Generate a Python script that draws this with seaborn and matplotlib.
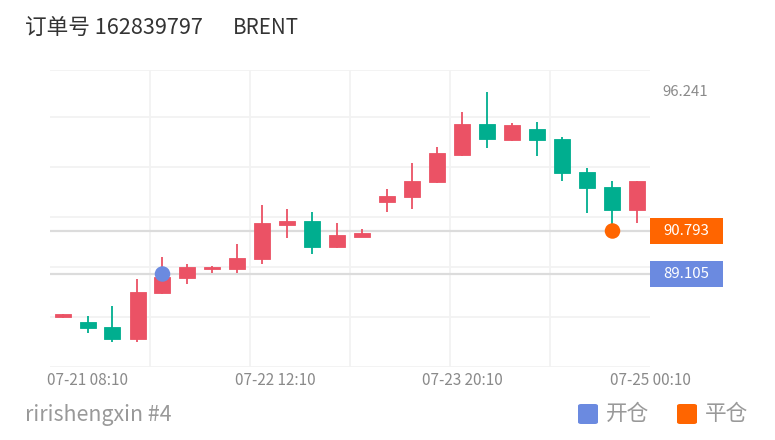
import numpy as np
import pandas as pd
import matplotlib
matplotlib.use("Agg")
import matplotlib.pyplot as plt
import seaborn as sns
from matplotlib.patches import Rectangle, FancyBboxPatch
from matplotlib.transforms import blended_transform_factory

# ---------------- data ----------------
opens = [87.417, 87.232, 87.036, 86.542, 88.347, 88.936, 89.301, 89.289, 89.682, 91.040, 91.197, 90.153,
         90.557, 91.920, 92.116, 92.705, 93.776, 94.993, 94.365, 94.809, 94.405, 93.121, 92.532, 91.617]
closes = [87.515, 86.985, 86.542, 88.410, 88.999, 89.368, 89.392, 89.745, 91.095, 91.197, 90.153, 90.624,
          90.703, 92.179, 92.768, 93.855, 94.993, 94.393, 94.954, 94.354, 93.058, 92.469, 91.617, 92.756]
highs = [87.554, 87.468, 87.861, 88.920, 89.784, 89.498, 89.420, 90.271, 91.814, 91.645, 91.527, 91.119,
         90.860, 92.430, 93.474, 94.102, 95.476, 96.241, 95.021, 95.084, 94.495, 93.254, 92.756, 92.756]
lows = [87.358, 86.777, 86.447, 86.424, 88.308, 88.712, 89.132, 89.132, 89.486, 90.506, 89.890, 90.140,
        90.557, 91.539, 91.657, 92.677, 93.749, 94.063, 94.326, 93.737, 92.768, 91.488, 90.850, 91.095]
tick_pos = [1.0, 8.5, 16.0, 23.5]
tick_labels = ["07-21 08:10", "07-22 12:10", "07-23 20:10", "07-25 00:10"]
open_idx, open_price = 4, 89.105
close_idx, close_price = 22, 90.793
max_price = 96.241
title_left = "订单号 162839797"
title_right = "BRENT"
footer = "ririshengxin #4"
legend_labels = ["开仓", "平仓"]

RED = "#eb5265"
GREEN = "#00ae8f"
BLUE = "#6b8ae0"
ORANGE = "#ff6500"

W, H = 775, 440

sns.set_theme(style="white")
plt.rcParams['font.family'] = ['Noto Sans CJK SC', 'DejaVu Sans']

fig = plt.figure(figsize=(W / 100, H / 100), dpi=100)
fig.patch.set_facecolor("white")
ax = fig.add_axes([50 / W, 73 / H, 600 / W, 297 / H])

df = pd.DataFrame(dict(idx=np.arange(len(opens)), open=opens, close=closes, high=highs, low=lows))
df["up"] = df["close"] >= df["open"]
cols = np.where(df["up"], RED, GREEN)

ax.vlines(df["idx"], df["low"], df["high"], colors=cols, lw=1.3, zorder=3)
ax.bar(df["idx"], df["close"] - df["open"], bottom=df["open"], width=0.64,
       color=cols, edgecolor=cols, linewidth=0.6, zorder=4)

ylo, yhi = 85.454, 97.113
ax.set_ylim(ylo, yhi)
ax.set_xlim(-0.5, len(opens) - 0.5)

# grid
ax.set_yticks([85.454, 87.417, 89.380, 91.343, 93.305, 95.268, 97.113])
ax.set_yticklabels([])
ax.set_xticks(tick_pos)
ax.set_xticklabels(tick_labels)
ax.set_xticks([3.5, 7.5, 11.5, 15.5, 19.5, 23.5], minor=True)
ax.grid(axis="y", which="major", color="#f2f2f2", lw=1.3, zorder=0)
ax.grid(axis="x", which="minor", color="#f2f2f2", lw=1.3, zorder=0)
ax.grid(axis="x", which="major", visible=False)
ax.tick_params(axis="x", which="both", length=0, pad=3.5, labelsize=11, labelcolor="#8a8a8a")
ax.tick_params(axis="y", which="both", length=0)
for s in ax.spines.values():
    s.set_visible(False)

# reference lines
ax.axhline(close_price, color="#dcdcdc", lw=1.6, zorder=2)
ax.axhline(open_price, color="#dcdcdc", lw=1.6, zorder=2)

# markers
sns.scatterplot(x=[open_idx], y=[open_price], color=BLUE, s=125, edgecolor="none", ax=ax, zorder=6, legend=False)
sns.scatterplot(x=[close_idx], y=[close_price], color=ORANGE, s=125, edgecolor="none", ax=ax, zorder=6, legend=False)

# right side labels
ppu = 297 / (yhi - ylo)
bt = blended_transform_factory(ax.transAxes, ax.transData)
box_w = 72.7 / 600
box_h = 26 / ppu
for price, c in [(close_price, ORANGE), (open_price, BLUE)]:
    ax.add_patch(Rectangle((1.0, price - box_h / 2), box_w, box_h, transform=bt,
                           facecolor=c, edgecolor="none", clip_on=False, zorder=7))
    ax.text(1.0 + box_w / 2, price, f"{price:.3f}", transform=bt, ha="center", va="center",
            color="white", fontsize=10.8, zorder=8, clip_on=False)
ax.text(1.0 + 35 / 600, max_price, f"{max_price:.3f}", transform=bt, ha="center", va="center",
        color="#8a8a8a", fontsize=10.8, clip_on=False)

# texts in figure pixel coordinates
def fx(x):
    return x / W

def fy(y):
    return 1 - y / H

fig.text(fx(25), fy(28), title_left, ha="left", va="center", fontsize=15.6, color="#333333")
fig.text(fx(233), fy(28), title_right, ha="left", va="center", fontsize=14.8, color="#333333")
fig.text(fx(25), fy(415), footer, ha="left", va="center", fontsize=15.4, color="#999999")

for x0, c, lab, tx in [(578, BLUE, legend_labels[0], 606), (677, ORANGE, legend_labels[1], 705)]:
    fig.patches.append(FancyBboxPatch((fx(x0), fy(424)), 20 / W, 20 / H,
                                      boxstyle="round,pad=0,rounding_size=0.004",
                                      transform=fig.transFigure, facecolor=c, edgecolor="none"))
    fig.text(fx(tx), fy(414), lab, ha="left", va="center", fontsize=15.6, color="#999999")

fig.savefig("out.png", dpi=100, facecolor="white")
